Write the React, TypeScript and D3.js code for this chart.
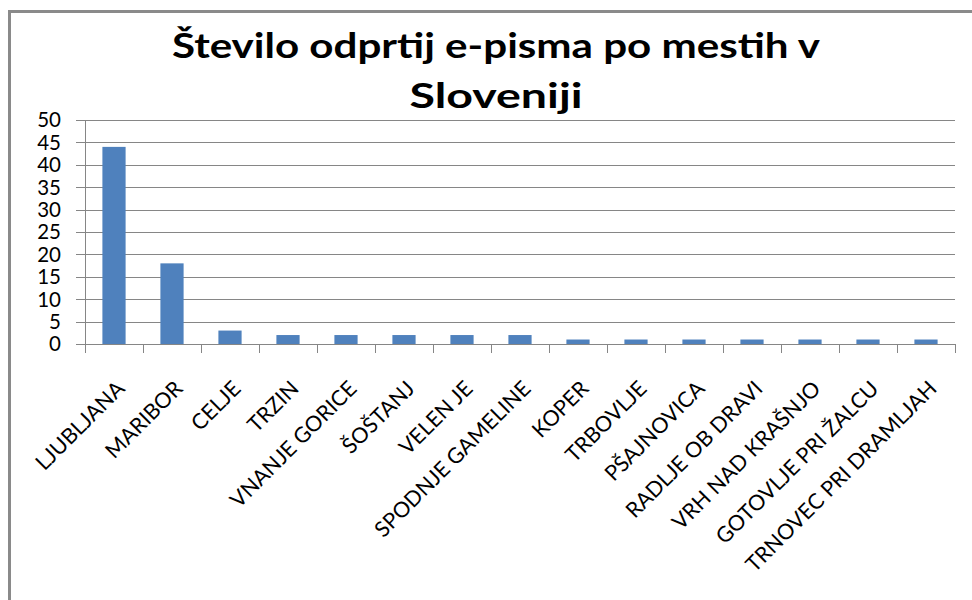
import React from "react";
import * as d3 from "d3";

const cities = [
  "LJUBLJANA",
  "MARIBOR",
  "CELJE",
  "TRZIN",
  "VNANJE GORICE",
  "ŠOŠTANJ",
  "VELEN JE",
  "SPODNJE GAMELINE",
  "KOPER",
  "TRBOVLJE",
  "PŠAJNOVICA",
  "RADLJE OB DRAVI",
  "VRH NAD KRAŠNJO",
  "GOTOVLJE PRI ŽALCU",
  "TRNOVEC PRI DRAMLJAH"
];
const opens = [44, 18, 3, 2, 2, 2, 2, 2, 1, 1, 1, 1, 1, 1, 1];
const yTicks = [0, 5, 10, 15, 20, 25, 30, 35, 40, 45, 50];
const titleLines = ["Število odprtij e-pisma po mestih v", "Sloveniji"];
const titleWidths = [648, 173];

const W = 972;
const H = 600;
const plot = { left: 85, right: 955, top: 120, bottom: 344 };
const font = "Lato, 'Open Sans', sans-serif";
const gray = "#868686";

export default function App() {
  const x = d3
    .scaleBand<string>()
    .domain(cities)
    .range([plot.left, plot.right])
    .paddingInner(0.6)
    .paddingOuter(0.3);
  const y = d3.scaleLinear().domain([0, 50]).range([plot.bottom, plot.top]);
  const step = x.step();
  const bounds = d3.range(cities.length + 1).map(i => plot.left + i * step);

  return (
    <svg
      width={W}
      height={H}
      style={{ position: "absolute", left: 0, top: 0, background: "#fff" }}
    >
      <rect x={9.5} y={11.5} width={1000} height={700} fill="#fff" stroke="#8a8a8a" strokeWidth={3} />

      {titleLines.map((t, i) => (
        <text
          key={t}
          x={496}
          y={58 + i * 50}
          textAnchor="middle"
          fontFamily={font}
          fontWeight="bold"
          fontSize={35}
          textLength={titleWidths[i]}
          lengthAdjust="spacingAndGlyphs"
          fill="#000"
        >
          {t}
        </text>
      ))}

      {/* gridlines + y ticks */}
      {yTicks.map(v => (
        <g key={v}>
          <line x1={plot.left - 9} x2={plot.right} y1={Math.round(y(v)) + 0.5} y2={Math.round(y(v)) + 0.5} stroke={gray} strokeWidth={1} />
          <text
            x={61}
            y={y(v)}
            dy="0.36em"
            textAnchor="end"
            fontFamily={font}
            fontSize={20.5}
            fill="#000"
          >
            {v}
          </text>
        </g>
      ))}

      {/* y axis */}
      <line x1={plot.left + 0.5} x2={plot.left + 0.5} y1={plot.top} y2={plot.bottom} stroke={gray} />

      {/* bars */}
      {cities.map((c, i) => (
        <rect
          key={c}
          x={x(c)}
          y={y(opens[i])}
          width={x.bandwidth()}
          height={plot.bottom - y(opens[i])}
          fill="#4f81bd"
        />
      ))}

      {/* x axis and ticks */}
      <line x1={plot.left} x2={plot.right} y1={plot.bottom + 0.5} y2={plot.bottom + 0.5} stroke={gray} />
      {bounds.map((b, i) => (
        <line key={i} x1={Math.round(b) + 0.5} x2={Math.round(b) + 0.5} y1={plot.bottom} y2={plot.bottom + 9} stroke={gray} />
      ))}

      {/* rotated category labels */}
      {cities.map(c => {
        const cx = (x(c) as number) + x.bandwidth() / 2 + 12;
        const cy = plot.bottom + 46;
        return (
          <text
            key={c}
            transform={`translate(${cx},${cy}) rotate(-45)`}
            textAnchor="end"
            fontFamily={font}
            fontSize={21.5}
            fill="#000"
          >
            {c}
          </text>
        );
      })}
    </svg>
  );
}
